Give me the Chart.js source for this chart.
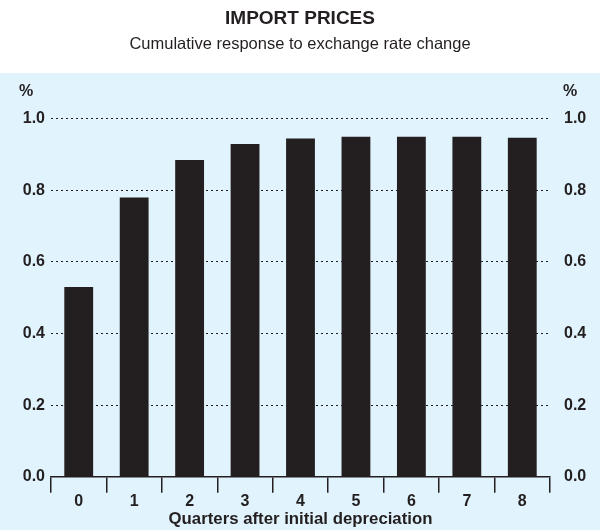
<!DOCTYPE html>
<html lang="en">
  <head>
    <meta charset="UTF-8" />
    <script src="https://cdn.jsdelivr.net/npm/chart.js@4.4.1/dist/chart.umd.min.js"></script>
    <title>Import prices</title>
    <style>
      html, body { margin: 0; padding: 0; background: #ffffff; }
      #wrap { width: 600px; height: 530px; }
    </style>
  </head>
  <body>
    <div id="wrap"><canvas id="myChart" width="600" height="530"></canvas></div>
    <script>
      // quarters after the initial depreciation
      const quarters = ["0", "1", "2", "3", "4", "5", "6", "7", "8"];
      // cumulative response of import prices (share of the exchange rate change)
      const response = [0.53, 0.78, 0.885, 0.93, 0.945, 0.95, 0.95, 0.95, 0.947];
      const yTicks = [0.0, 0.2, 0.4, 0.6, 0.8, 1.0];

      const ink = "#231f20";
      const fontFamily = "'Liberation Sans', Arial, Helvetica, sans-serif";

      // light blue panel behind the plot and the % unit labels
      const panel = {
        id: "panel",
        beforeDraw(chart) {
          const ctx = chart.ctx;
          ctx.save();
          ctx.fillStyle = "#e1f3fc";
          ctx.fillRect(0, 73, chart.width, chart.height - 73);
          ctx.restore();
        },
        afterDraw(chart) {
          const ctx = chart.ctx;
          ctx.save();
          ctx.fillStyle = ink;
          ctx.font = "bold 16px " + fontFamily;
          ctx.textBaseline = "middle";
          ctx.textAlign = "left";
          ctx.fillText("%", 19, 92);
          ctx.textAlign = "center";
          ctx.fillText("%", 570, 92);
          ctx.restore();
        },
      };

      const yBase = {
        type: "linear",
        min: 0,
        max: 1,
        afterBuildTicks: (scale) => {
          scale.ticks = yTicks.map((v) => ({ value: v }));
        },
        ticks: {
          color: ink,
          padding: 6,
          font: { family: fontFamily, size: 16, weight: "bold" },
          callback: (v) => Number(v).toFixed(1),
        },
      };

      const ctx = document.getElementById("myChart").getContext("2d");
      const myChart = new Chart(ctx, {
        type: "bar",
        data: {
          labels: quarters,
          datasets: [
            {
              label: "Cumulative response",
              data: response,
              backgroundColor: ink,
              borderWidth: 0,
              barPercentage: 0.52,
              categoryPercentage: 1.0,
            },
          ],
        },
        options: {
          responsive: false,
          animation: false,
          layout: { padding: { left: 0, right: 0, top: 0, bottom: 1.2 } },
          plugins: {
            legend: { display: false },
            tooltip: { enabled: false },
            title: {
              display: true,
              text: "IMPORT PRICES",
              color: ink,
              font: { family: fontFamily, size: 19, weight: "bold" },
              padding: { top: 7, bottom: 0 },
            },
            subtitle: {
              display: true,
              text: "Cumulative response to exchange rate change",
              color: ink,
              font: { family: fontFamily, size: 16.5, weight: "normal" },
              padding: { top: 5, bottom: 64.3 },
            },
          },
          scales: {
            x: {
              grid: {
                offset: true,
                drawOnChartArea: false,
                drawTicks: true,
                tickLength: 16,
                color: ink,
                lineWidth: 1.5,
              },
              border: { display: true, color: ink, width: 1.5 },
              ticks: {
                color: ink,
                padding: 0,
                font: { family: fontFamily, size: 16, weight: "bold", lineHeight: 1.125 },
              },
              title: {
                display: true,
                text: "Quarters after initial depreciation",
                color: ink,
                font: { family: fontFamily, size: 16.8, weight: "bold", lineHeight: 1.14 },
                padding: { top: -1, bottom: 0 },
              },
            },
            y: {
              ...yBase,
              position: "left",
              afterFit: (scale) => { scale.width = 51; },
              grid: {
                drawTicks: false,
                color: (c) => (c.tick && c.tick.value === 0 ? "rgba(0,0,0,0)" : ink),
                lineWidth: 1,
              },
              border: { display: false, dash: [2, 3] },
            },
            y2: {
              ...yBase,
              position: "right",
              afterFit: (scale) => { scale.width = 50; },
              grid: { display: false },
              border: { display: false },
            },
          },
        },
        plugins: [panel],
      });
    </script>
  </body>
</html>
